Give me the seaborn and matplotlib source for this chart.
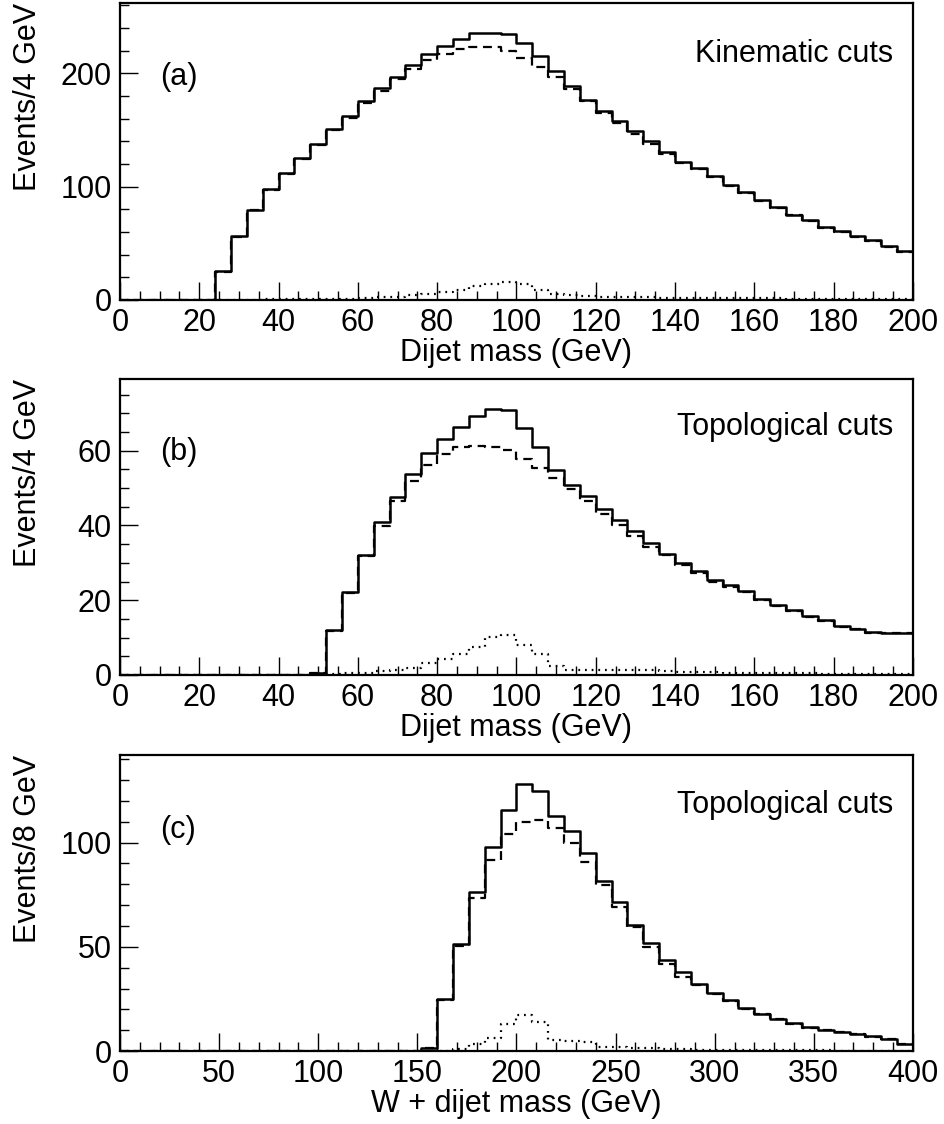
import numpy as np
import pandas as pd
import matplotlib
matplotlib.use("Agg")
import matplotlib.pyplot as plt
import seaborn as sns
from matplotlib.ticker import MultipleLocator

# ---------------- data ----------------
# Panel (a): dijet mass, kinematic cuts, 4 GeV bins from 0 to 200
edges_a = list(range(0, 204, 4))
solid_a = [0, 0, 0, 0, 0, 0,
           26, 56.6, 79.6, 97.5, 112, 125, 138, 151, 162, 175.5,
           186.7, 197, 207, 216.7, 223.7, 230, 235.5, 235.5, 235, 227,
           215, 201.7, 188.4, 176.7, 167, 157.8, 148.7, 139.9, 130.4, 122,
           116.5, 109.5, 101.7, 95.1, 88.4, 81.9, 75.2, 70.2, 64.3, 60.7,
           56.3, 52.5, 47.5, 43]
dashed_a = [0, 0, 0, 0, 0, 0,
            25, 56, 79, 97, 111, 124, 137, 150, 160.5, 174,
            184, 194.6, 204, 211.4, 217, 221.7, 223, 223, 219.5, 213.8,
            205.5, 196.7, 186.4, 175.8, 164.9, 155.9, 146.6, 137.3, 129, 120.5,
            115.5, 108.5, 100.8, 94.3, 87.6, 81.2, 74.6, 69.6, 63.8, 60.2,
            55.8, 52, 47, 42.6]
dotted_a = [0, 0, 0, 0, 0, 0,
            0.2, 0.3, 0.4, 0.5, 0.6, 0.7, 0.8, 1.0, 1.2, 1.6,
            2.3, 3.0, 4.0, 5.5, 7.0, 9.0, 12.0, 13.7, 16.3, 14.5,
            8.4, 5.5, 4.0, 3.2, 2.8, 2.6, 2.5, 2.3, 2.2, 2.0,
            1.9, 1.8, 1.7, 1.6, 1.5, 1.4, 1.3, 1.2, 1.1, 1.0,
            1.0, 0.9, 0.9, 0.8]

# Panel (b): dijet mass, topological cuts, 4 GeV bins from 0 to 200
edges_b = list(range(0, 204, 4))
solid_b = [0] * 12 + [
    0.5, 11.9, 22.2, 32.2, 41, 47.6, 53.8, 59.5, 63.1, 66.4,
    69.2, 71.3, 70.8, 66, 60.9, 54.9, 50.9, 47.9, 44.3, 41.6,
    38.6, 35.3, 32.5, 30, 27.9, 25.3, 24, 22.5, 20.4, 18.7,
    17.5, 15.8, 14.7, 13.1, 12.4, 11.4, 11.3, 11.3]
dashed_b = [0] * 12 + [
    0.4, 11.7, 22, 31.8, 39.8, 46.5, 52, 56.1, 59.1, 60.9,
    61.3, 61, 60.3, 57.8, 55.4, 52.7, 49.8, 46.5, 43.2, 40,
    37.1, 34.3, 32, 29.5, 27.4, 24.9, 23.6, 22.1, 20.1, 18.4,
    17.2, 15.6, 14.5, 12.9, 12.2, 11.3, 11.2, 11.2]
dotted_b = [0] * 12 + [
    0.2, 0.3, 0.4, 0.6, 1.0, 1.3, 1.8, 3.3, 4.2, 5.5,
    7.5, 10.1, 10.7, 8.1, 5.5, 2.3, 1.2, 1.2, 1.3, 1.4,
    1.4, 1.2, 1.0, 0.9, 0.8, 0.7, 0.6, 0.6, 0.5, 0.5,
    0.4, 0.4, 0.3, 0.3, 0.3, 0.2, 0.2, 0.2]

# Panel (c): W + dijet mass, topological cuts, 8 GeV bins from 0 to 400
edges_c = list(range(0, 408, 8))
solid_c = [0] * 19 + [
    1.5, 24.9, 51.2, 76.4, 98, 115.7, 128, 125, 113, 105.5,
    95, 81.8, 71.6, 60.4, 51.9, 43.6, 38, 32.4, 28, 24.4,
    20.8, 18, 15.6, 13.5, 11.5, 10.3, 9.2, 8.2, 7.0, 6.0,
    3.5]
dashed_c = [0] * 19 + [
    1.4, 24.4, 50.5, 73.3, 91.7, 104.2, 110.1, 110.9, 107.2, 100,
    90.7, 79.7, 69.2, 59.3, 50, 41.7, 35.6, 31.6, 27.4, 23.9,
    20.4, 17.6, 15.3, 13.2, 11.3, 10.1, 9.0, 8.0, 6.9, 5.9,
    3.4]
dotted_c = [0] * 19 + [
    0, 0.2, 1.0, 3.2, 6.5, 13.2, 17.2, 14, 5.5, 5.0,
    4.5, 2.0, 2.0, 1.5, 1.5, 1.0, 0.8, 0.7, 0.6, 0.5,
    0.5, 0.4, 0.4, 0.3, 0.3, 0.3, 0.2, 0.2, 0.2, 0.2,
    0.2]

panels = [
    dict(edges=edges_a, solid=solid_a, dashed=dashed_a, dotted=dotted_a,
         tag="(a)", note="Kinematic cuts", xlabel="Dijet mass (GeV)",
         ylabel="Events/4 GeV", ymax=262, ymaj=100, ymin=20, xmaj=20, xmin=5,
         xmax=200, rect=[0.1271, 0.7331, 0.8400, 0.2642],
         tag_y=0.75, note_y=0.83),
    dict(edges=edges_b, solid=solid_b, dashed=dashed_b, dotted=dotted_b,
         tag="(b)", note="Topological cuts", xlabel="Dijet mass (GeV)",
         ylabel="Events/4 GeV", ymax=79.2, ymaj=20, ymin=5, xmaj=20, xmin=5,
         xmax=200, rect=[0.1271, 0.3995, 0.8400, 0.2633],
         tag_y=0.754, note_y=0.839),
    dict(edges=edges_c, solid=solid_c, dashed=dashed_c, dotted=dotted_c,
         tag="(c)", note="Topological cuts", xlabel="W + dijet mass (GeV)",
         ylabel="Events/8 GeV", ymax=142, ymaj=50, ymin=10, xmaj=50, xmin=10,
         xmax=400, rect=[0.1271, 0.0649, 0.8400, 0.2633],
         tag_y=0.747, note_y=0.831),
]

# ---------------- style ----------------
sns.set_theme(style="white")
plt.rcParams['font.family'] = ['Liberation Sans', 'DejaVu Sans']
plt.rcParams['text.color'] = 'black'
plt.rcParams['axes.labelcolor'] = 'black'
plt.rcParams['xtick.color'] = 'black'
plt.rcParams['ytick.color'] = 'black'

FS = 22
fig = plt.figure(figsize=(9.44, 11.24), dpi=100)

styles = [("dotted", (0, (0.8, 2.2)), 1.6),
          ("dashed", (0, (4, 2.6)), 1.6),
          ("solid", "-", 1.8)]

for p in panels:
    ax = fig.add_axes(p["rect"])
    edges = p["edges"]
    centers = [(edges[i] + edges[i + 1]) / 2 for i in range(len(edges) - 1)]
    for key, ls, lw in styles:
        df = pd.DataFrame({"mass": centers, "events": p[key]})
        sns.histplot(data=df, x="mass", weights="events", bins=edges,
                     element="step", fill=False, color="black",
                     linewidth=lw, linestyle=ls, ax=ax)

    ax.set_xlim(0, p["xmax"])
    ax.set_ylim(0, p["ymax"])
    ax.xaxis.set_major_locator(MultipleLocator(p["xmaj"]))
    ax.xaxis.set_minor_locator(MultipleLocator(p["xmin"]))
    ax.yaxis.set_major_locator(MultipleLocator(p["ymaj"]))
    ax.yaxis.set_minor_locator(MultipleLocator(p["ymin"]))
    ax.tick_params(which="both", direction="in", bottom=True, left=True,
                   top=False, right=False, colors="black", labelsize=FS)
    ax.tick_params(which="major", length=13, width=1.0, pad=6)
    ax.tick_params(which="minor", length=6.5, width=1.0)
    for s in ax.spines.values():
        s.set_color("black")
        s.set_linewidth(1.6)
    ax.set_xlabel(p["xlabel"], fontsize=FS, labelpad=0, color="black")
    ax.set_ylabel(p["ylabel"], fontsize=FS, loc="top", color="black")
    ax.yaxis.set_label_coords(-0.097, 1.0)
    ax.text(0.05, p["tag_y"], p["tag"], transform=ax.transAxes,
            fontsize=FS, ha="left", va="center", color="black")
    ax.text(0.975, p["note_y"], p["note"], transform=ax.transAxes,
            fontsize=FS, ha="right", va="center", color="black")

fig.savefig("out.png", dpi=100, facecolor="white")
